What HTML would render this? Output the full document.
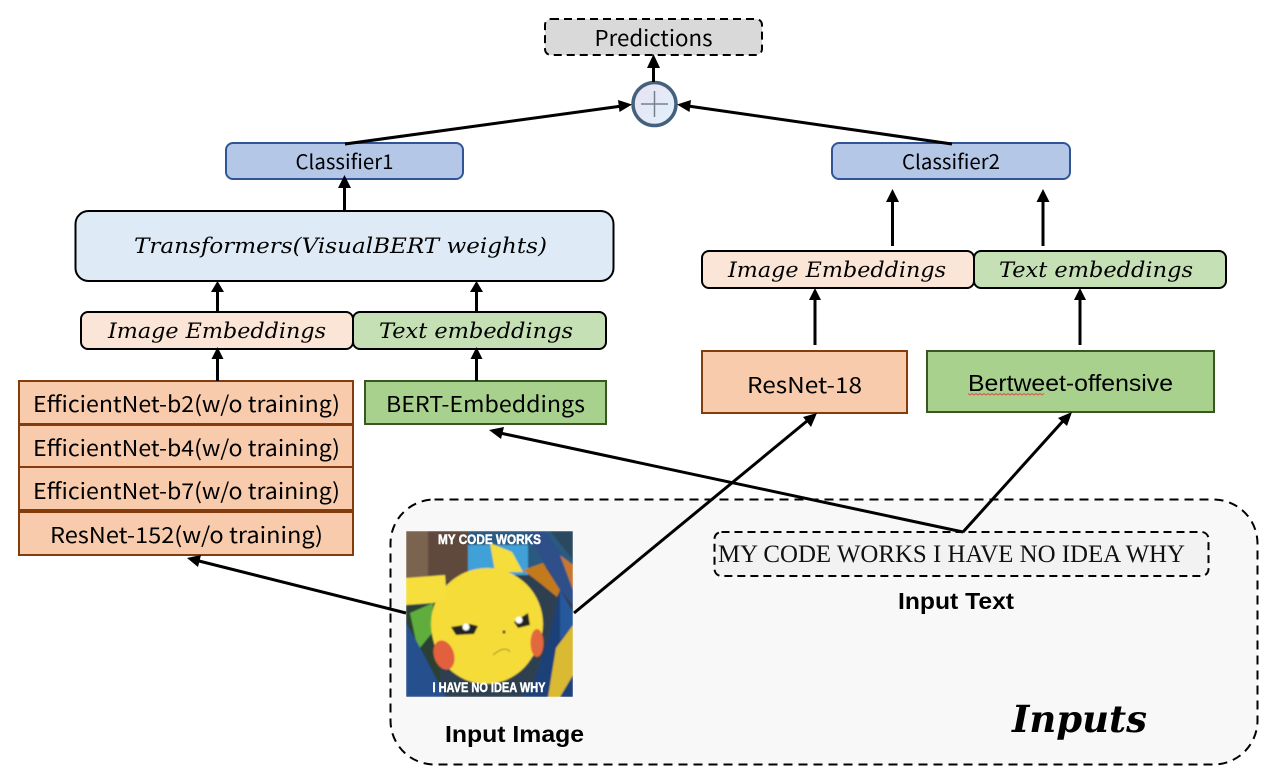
<!DOCTYPE html>
<html><head><meta charset="utf-8"><style>
html,body{margin:0;padding:0;background:#fff}
svg{display:block}
.y{font-family:"Noto Sans CJK SC","Liberation Sans",sans-serif;font-size:22px;fill:#000;font-weight:400}
.m{font-family:"DejaVu Serif","Liberation Serif",serif;font-style:italic;font-size:21px;fill:#000}
.a{font-family:"Liberation Sans",sans-serif;fill:#000}
</style></head><body>
<svg width="1279" height="776" viewBox="0 0 1279 776" xmlns="http://www.w3.org/2000/svg">
<defs>
<linearGradient id="pl" x1="0" y1="0" x2="1" y2="1"><stop offset="0" stop-color="#e8e0f4"/><stop offset="1" stop-color="#e0f2fb"/></linearGradient>
<filter id="bl"><feGaussianBlur stdDeviation="0.8"/></filter>
<clipPath id="pc"><rect x="406" y="531" width="167" height="166"/></clipPath>
</defs>
<rect width="1279" height="776" fill="#fff"/>

<!-- Inputs panel -->
<rect x="390.500" y="499.500" width="867" height="265" rx="44" fill="#f8f8f8" stroke="#000" stroke-width="2" stroke-dasharray="9 6"/>

<!-- Predictions -->
<rect x="545" y="19" width="217" height="36" rx="6" fill="#d9d9d9" stroke="#000" stroke-width="2" stroke-dasharray="8 5"/>
<text x="653.500" y="46" class="y" text-anchor="middle" textLength="118" lengthAdjust="spacingAndGlyphs">Predictions</text>

<!-- Plus -->
<circle cx="654.500" cy="104" r="21.500" fill="url(#pl)" stroke="#44607c" stroke-width="3.500"/>
<path d="M654.500 91V117M641 104H668" stroke="#76818c" stroke-width="1.500" fill="none"/>

<!-- Classifiers -->
<rect x="226" y="143" width="237" height="36" rx="7" fill="#b4c7e7" stroke="#2f5597" stroke-width="2"/>
<text x="344.500" y="169" class="y" text-anchor="middle" style="font-size:20px" textLength="98" lengthAdjust="spacingAndGlyphs">Classifier1</text>
<rect x="832" y="143" width="238" height="36" rx="7" fill="#b4c7e7" stroke="#2f5597" stroke-width="2"/>
<text x="951" y="169" class="y" text-anchor="middle" style="font-size:20px" textLength="98" lengthAdjust="spacingAndGlyphs">Classifier2</text>

<!-- Transformers -->
<rect x="75.500" y="211" width="538" height="70" rx="13" fill="#deebf7" stroke="#000" stroke-width="2"/>
<text x="134" y="253" class="m" textLength="413" lengthAdjust="spacingAndGlyphs">Transformers(VisualBERT weights)</text>

<!-- Embeddings left -->
<rect x="81" y="312" width="272" height="37" rx="7" fill="#fbe5d6" stroke="#000" stroke-width="2"/>
<text x="108" y="338" class="m" textLength="218" lengthAdjust="spacingAndGlyphs">Image Embeddings</text>
<rect x="353" y="312" width="253" height="37" rx="7" fill="#c5e0b4" stroke="#000" stroke-width="2"/>
<text x="379" y="338" class="m" textLength="194" lengthAdjust="spacingAndGlyphs">Text embeddings</text>

<!-- Embeddings right -->
<rect x="702" y="251" width="272" height="37" rx="7" fill="#fbe5d6" stroke="#000" stroke-width="2"/>
<text x="728" y="277" class="m" textLength="218" lengthAdjust="spacingAndGlyphs">Image Embeddings</text>
<rect x="974" y="251" width="252" height="37" rx="7" fill="#c5e0b4" stroke="#000" stroke-width="2"/>
<text x="999" y="277" class="m" textLength="194" lengthAdjust="spacingAndGlyphs">Text embeddings</text>

<!-- Left stack -->
<g fill="#f8cbad" stroke="#843c0c" stroke-width="2">
<rect x="19" y="381" width="334" height="43"/>
<rect x="19" y="425" width="334" height="42"/>
<rect x="19" y="467" width="334" height="43"/>
<rect x="19" y="512" width="334" height="43"/>
</g>
<text x="33" y="412" class="y" textLength="307" lengthAdjust="spacingAndGlyphs">EfficientNet-b2(w/o training)</text>
<text x="33" y="456" class="y" textLength="307" lengthAdjust="spacingAndGlyphs">EfficientNet-b4(w/o training)</text>
<text x="33" y="499" class="y" textLength="307" lengthAdjust="spacingAndGlyphs">EfficientNet-b7(w/o training)</text>
<text x="50" y="543" class="y" textLength="273" lengthAdjust="spacingAndGlyphs">ResNet-152(w/o training)</text>

<!-- BERT -->
<rect x="365" y="381" width="241" height="43" fill="#a9d18e" stroke="#385723" stroke-width="2"/>
<text x="386" y="412" class="y" textLength="199" lengthAdjust="spacingAndGlyphs">BERT-Embeddings</text>

<!-- ResNet-18 -->
<rect x="702" y="351" width="205" height="62" fill="#f8cbad" stroke="#843c0c" stroke-width="2"/>
<text x="747" y="393" class="y" textLength="115" lengthAdjust="spacingAndGlyphs">ResNet-18</text>

<!-- Bertweet -->
<rect x="927" y="351" width="287" height="61" fill="#a9d18e" stroke="#385723" stroke-width="2"/>
<text x="968" y="391" class="a" style="font-size:23px" textLength="205" lengthAdjust="spacingAndGlyphs">Bertweet-offensive</text>
<path d="M968 393.500 l2 1.500 l2 -1.500 l2 1.500 l2 -1.500 l2 1.500 l2 -1.500 l2 1.500 l2 -1.500 l2 1.500 l2 -1.500 l2 1.500 l2 -1.500 l2 1.500 l2 -1.500 l2 1.500 l2 -1.500 l2 1.500 l2 -1.500 l2 1.500 l2 -1.500 l2 1.500 l2 -1.500 l2 1.500 l2 -1.500 l2 1.500 l2 -1.500 l2 1.500 l2 -1.500 l2 1.500 l2 -1.500 l2 1.500 l2 -1.500 l2 1.500 l2 -1.500 l2 1.500 l2 -1.500 l2 1.500 l2 -1.500" fill="none" stroke="#d9534f" stroke-width="1"/>

<!-- Input text -->
<rect x="714.500" y="532" width="494" height="44" rx="7" fill="#f2f2f2" stroke="#000" stroke-width="2" stroke-dasharray="8 5"/>
<text x="718" y="562" style="font-family:'Liberation Serif',serif;font-size:25px;fill:#111" textLength="467" lengthAdjust="spacingAndGlyphs">MY CODE WORKS I HAVE NO IDEA WHY</text>
<text x="898" y="609" class="a" style="font-size:23px;font-weight:bold" textLength="116" lengthAdjust="spacingAndGlyphs">Input Text</text>
<text x="445" y="742" class="a" style="font-size:23px;font-weight:bold" textLength="139" lengthAdjust="spacingAndGlyphs">Input Image</text>
<text x="1012" y="732" style="font-family:'DejaVu Serif','Liberation Serif',serif;font-style:italic;font-weight:bold;font-size:37px;fill:#000" textLength="135" lengthAdjust="spacingAndGlyphs">Inputs</text>

<!-- Pikachu -->
<g clip-path="url(#pc)">
<g filter="url(#bl)">
<rect x="406" y="531" width="167" height="166" fill="#2f3f50"/>
<rect x="406" y="531" width="62" height="50" fill="#5e4a3e"/>
<rect x="406" y="531" width="22" height="50" fill="#7a6450"/>
<rect x="468" y="531" width="105" height="36" fill="#2c5a80"/>
<rect x="468" y="545" width="60" height="30" fill="#3fa0d8"/>
<path d="M527 533L545 531L573 570V605L560 590Z" fill="#2f4f8a"/>
<path d="M550 531H573V560Z" fill="#2b4a60"/>
<path d="M560 555L573 565V590Z" fill="#c8782a"/>
<path d="M490 543L512 552L523 572L495 572Z" fill="#f5dd3a"/>
<path d="M523 570L543 563L560 590L557 597L540 583Z" fill="#c27a1e"/>
<path d="M406 606H440V697H406Z" fill="#2a3f30"/>
<path d="M410 613L433 603L432 633L418 650Z" fill="#5fae3e"/>
<circle cx="487" cy="624" r="56" fill="#f5dc38"/>
<ellipse cx="486" cy="628" rx="54" ry="56" fill="#f5dc38"/>
<path d="M406 578L445 575L447 598L433 603L406 605Z" fill="#f6df3e"/>
<path d="M406 623L416 640L446 697H406Z" fill="#27508e"/>
<path d="M560 590L573 612V697H521L533 683L548 640Z" fill="#1f3f78"/>
<path d="M556 648L573 625V675L560 697H548Z" fill="#d9ba30"/>
<path d="M560 590L573 612V625L560 640Z" fill="#26589c"/>
<ellipse cx="444" cy="655" rx="10" ry="15" transform="rotate(-18 444 655)" fill="#e2603e"/>
<ellipse cx="537" cy="643" rx="6.500" ry="14" fill="#e2683e"/>
<path d="M451 627L470 624L478 626L474 634L456 635Z" fill="#222"/>
<circle cx="466" cy="627" r="3.500" fill="#fff"/>
<path d="M514 622L528 613L530 625L518 628Z" fill="#222"/>
<circle cx="519" cy="620" r="3.500" fill="#fff"/>
<circle cx="504" cy="632" r="1.500" fill="#222"/>
<path d="M493 655Q505 645 510 652" fill="none" stroke="#9a8a30" stroke-width="1"/>
</g>
<text x="489.500" y="544" text-anchor="middle" style="font-family:'Liberation Sans',sans-serif;font-weight:bold;font-size:14px;fill:#fff;stroke:#fff;stroke-width:.5;paint-order:stroke" textLength="103" lengthAdjust="spacingAndGlyphs">MY CODE WORKS</text>
<text x="489" y="692" text-anchor="middle" style="font-family:'Liberation Sans',sans-serif;font-weight:bold;font-size:14px;fill:#fff;stroke:#fff;stroke-width:.5;paint-order:stroke" textLength="113" lengthAdjust="spacingAndGlyphs">I HAVE NO IDEA WHY</text>
</g>

<!-- Connectors -->
<g stroke="#000" stroke-width="3" fill="none">
<path d="M653.500 82V66"/>
<path d="M345 144L622 106"/>
<path d="M952 144L688 106"/>
<path d="M344.500 211V186"/>
<path d="M217.500 312V289"/>
<path d="M476.500 312V289"/>
<path d="M217.500 381V357"/>
<path d="M476.500 381V357"/>
<path d="M892.500 246V200"/>
<path d="M1043 246V200"/>
<path d="M815 345V297"/>
<path d="M1080 345V297"/>
<path d="M406 613L199 561"/>
<path d="M574 613L807 421"/>
<path d="M963 532L500 433"/>
<path d="M963 532L1063 421"/>
</g>
<g fill="#000">
<path d="M653.500 54L647 68H660Z"/>
<path d="M632 104.500L618 100L619.500 112Z"/>
<path d="M677 104.500L691 100L689.500 112Z"/>
<path d="M344.500 175L338 188H351Z"/>
<path d="M217.500 281L211 292H224Z"/>
<path d="M476.500 281L470 292H483Z"/>
<path d="M217.500 347L211.500 359H223.500Z"/>
<path d="M476.500 347L470.500 359H482.500Z"/>
<path d="M892.500 189L886 202H899Z"/>
<path d="M1043 189L1036.500 202H1049.500Z"/>
<path d="M815 288L809 300H821Z"/>
<path d="M1080 288L1074 300H1086Z"/>
<path d="M187 558L201 555L198 567Z"/>
<path d="M817 413L811 427L803 417Z"/>
<path d="M489 430L504 427L501 439Z"/>
<path d="M1072 412L1067 426L1058 418Z"/>
</g>
</svg>
</body></html>
